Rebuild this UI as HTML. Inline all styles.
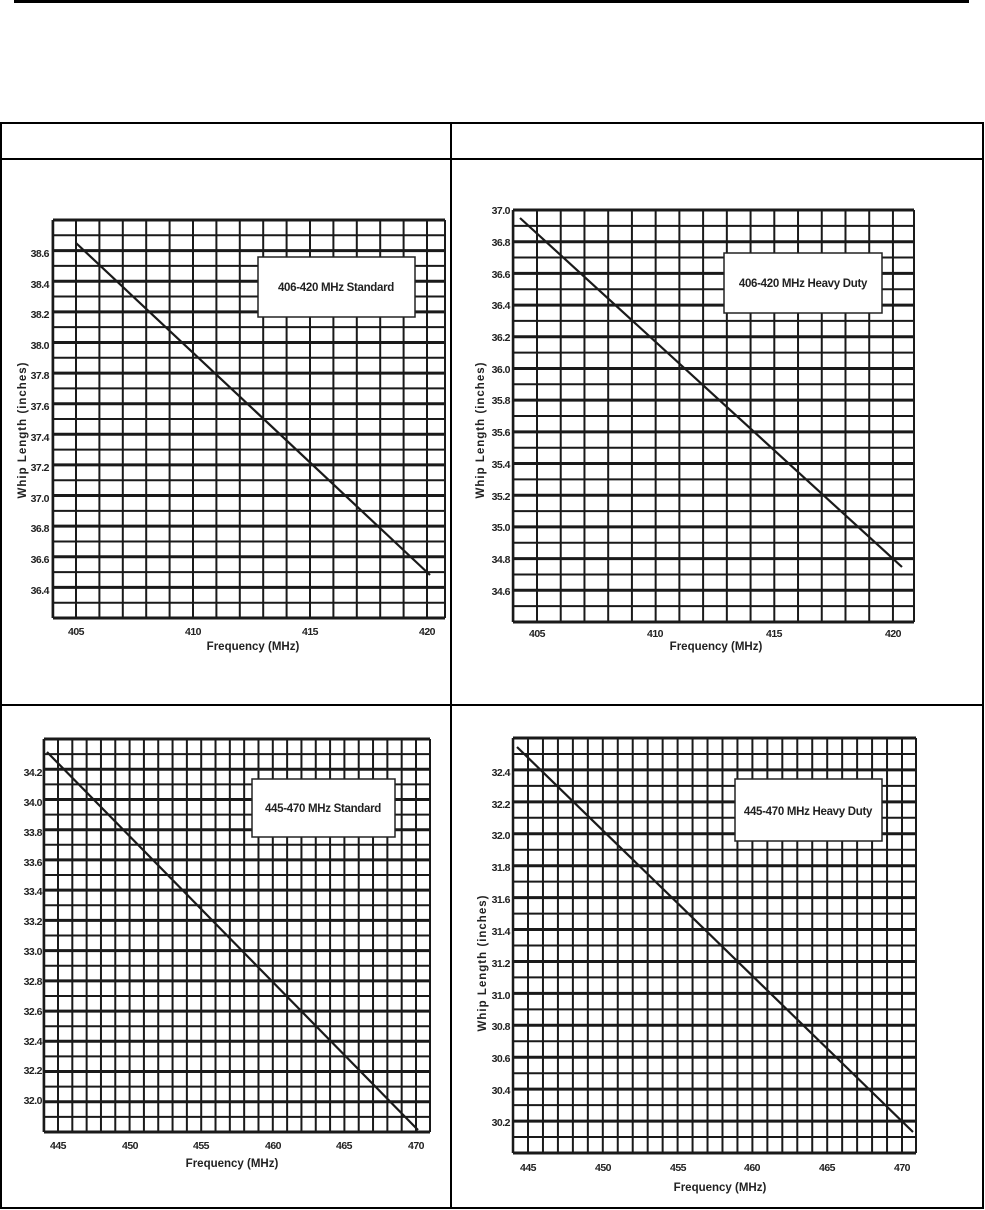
<!DOCTYPE html>
<html><head><meta charset="utf-8"><style>
html,body{margin:0;padding:0;background:#fff;}
svg{display:block;}
text{font-family:"Liberation Sans",sans-serif;font-weight:bold;fill:#222;}
.t{font-size:10.5px;letter-spacing:-0.5px;}
.lg{font-size:11.5px;letter-spacing:-0.3px;}
.ax{font-size:11.5px;}
</style></head><body>
<svg id="s" width="985" height="1210" viewBox="0 0 985 1210" xmlns="http://www.w3.org/2000/svg">
<rect x="14" y="0" width="955" height="3" fill="#000"/>
<g stroke="#000" stroke-width="2" fill="none">
<rect x="1" y="123" width="982" height="1085"/>
<line x1="1" y1="159" x2="983" y2="159"/>
<line x1="1" y1="705" x2="983" y2="705"/>
<line x1="451" y1="123" x2="451" y2="1208"/>
</g>
<g id="grids"></g>

<!-- Chart 1 -->
<g class="t" text-anchor="end">
<text x="49" y="257">38.6</text><text x="49" y="288">38.4</text><text x="49" y="318">38.2</text><text x="49" y="349">38.0</text><text x="49" y="379">37.8</text><text x="49" y="410">37.6</text><text x="49" y="441">37.4</text><text x="49" y="471">37.2</text><text x="49" y="502">37.0</text><text x="49" y="532">36.8</text><text x="49" y="563">36.6</text><text x="49" y="594">36.4</text>
</g>
<g class="t" text-anchor="middle">
<text x="76" y="635">405</text><text x="193" y="635">410</text><text x="310" y="635">415</text><text x="427" y="635">420</text>
</g>
<text class="ax" x="253" y="650" text-anchor="middle">Frequency (MHz)</text>
<text class="ax" transform="translate(26,430) rotate(-90)" text-anchor="middle" letter-spacing="1">Whip Length (inches)</text>
<rect x="258" y="257" width="157" height="60" fill="#fff" stroke="#222" stroke-width="1.5"/>
<text class="lg" x="336" y="291" text-anchor="middle">406-420  MHz  Standard</text>

<!-- Chart 2 -->
<g class="t" text-anchor="end">
<text x="510" y="214">37.0</text><text x="510" y="246">36.8</text><text x="510" y="278">36.6</text><text x="510" y="309">36.4</text><text x="510" y="341">36.2</text><text x="510" y="373">36.0</text><text x="510" y="404">35.8</text><text x="510" y="436">35.6</text><text x="510" y="468">35.4</text><text x="510" y="500">35.2</text><text x="510" y="531">35.0</text><text x="510" y="563">34.8</text><text x="510" y="595">34.6</text>
</g>
<g class="t" text-anchor="middle">
<text x="537" y="637">405</text><text x="655" y="637">410</text><text x="774" y="637">415</text><text x="893" y="637">420</text>
</g>
<text class="ax" x="716" y="650" text-anchor="middle">Frequency (MHz)</text>
<text class="ax" transform="translate(484,430) rotate(-90)" text-anchor="middle" letter-spacing="1">Whip Length (inches)</text>
<rect x="724" y="253" width="158" height="60" fill="#fff" stroke="#222" stroke-width="1.5"/>
<text class="lg" x="803" y="287" text-anchor="middle">406-420  MHz  Heavy  Duty</text>

<!-- Chart 3 -->
<g class="t" text-anchor="end">
<text x="42" y="776">34.2</text><text x="42" y="806">34.0</text><text x="42" y="836">33.8</text><text x="42" y="866">33.6</text><text x="42" y="895">33.4</text><text x="42" y="925">33.2</text><text x="42" y="955">33.0</text><text x="42" y="985">32.8</text><text x="42" y="1015">32.6</text><text x="42" y="1045">32.4</text><text x="42" y="1074">32.2</text><text x="42" y="1104">32.0</text>
</g>
<g class="t" text-anchor="middle">
<text x="58" y="1149">445</text><text x="130" y="1149">450</text><text x="201" y="1149">455</text><text x="273" y="1149">460</text><text x="344" y="1149">465</text><text x="416" y="1149">470</text>
</g>
<text class="ax" x="232" y="1167" text-anchor="middle">Frequency (MHz)</text>
<rect x="252" y="779" width="143" height="58" fill="#fff" stroke="#222" stroke-width="1.5"/>
<text class="lg" x="323" y="812" text-anchor="middle">445-470  MHz  Standard</text>

<!-- Chart 4 -->
<g class="t" text-anchor="end">
<text x="510" y="776">32.4</text><text x="510" y="808">32.2</text><text x="510" y="839">32.0</text><text x="510" y="871">31.8</text><text x="510" y="903">31.6</text><text x="510" y="935">31.4</text><text x="510" y="967">31.2</text><text x="510" y="999">31.0</text><text x="510" y="1030">30.8</text><text x="510" y="1062">30.6</text><text x="510" y="1094">30.4</text><text x="510" y="1126">30.2</text>
</g>
<g class="t" text-anchor="middle">
<text x="528" y="1171">445</text><text x="603" y="1171">450</text><text x="678" y="1171">455</text><text x="752" y="1171">460</text><text x="827" y="1171">465</text><text x="902" y="1171">470</text>
</g>
<text class="ax" x="720" y="1191" text-anchor="middle">Frequency (MHz)</text>
<text class="ax" transform="translate(486,963) rotate(-90)" text-anchor="middle" letter-spacing="1">Whip Length (inches)</text>
<rect x="735" y="779" width="147" height="62" fill="#fff" stroke="#222" stroke-width="1.5"/>
<text class="lg" x="808" y="815" text-anchor="middle">445-470  MHz  Heavy  Duty</text>
</svg>
<script>
(function(){
var NS="http://www.w3.org/2000/svg";
var g=document.getElementById('grids');
function L(x1,y1,x2,y2,w){var l=document.createElementNS(NS,'line');l.setAttribute('x1',x1);l.setAttribute('y1',y1);l.setAttribute('x2',x2);l.setAttribute('y2',y2);l.setAttribute('stroke','#1a1a1a');l.setAttribute('stroke-width',w);g.appendChild(l);}
var C=[
 {x0:53,x1:445,y0:220,y1:618,ref:76,sc:23.4,f0:404,f1:420,line:[76,243,430,575]},
 {x0:513,x1:914,y0:210,y1:622,ref:537,sc:23.73,f0:404,f1:420,line:[520,218,902,567]},
 {x0:44,x1:430,y0:739,y1:1132,ref:58,sc:14.32,f0:444,f1:470,line:[47,752,418,1130]},
 {x0:513,x1:916,y0:738,y1:1153,ref:528,sc:14.96,f0:444,f1:470,line:[517,747,913,1132]}
];
C.forEach(function(c){
 var baseF=(c.f0===404)?405:445;
 for(var f=c.f0;f<=c.f1;f++){var x=c.ref+(f-baseF)*c.sc;L(x,c.y0,x,c.y1,2);}
 L(c.x0,c.y0,c.x0,c.y1,2.5);L(c.x1,c.y0,c.x1,c.y1,2);
 for(var i=0;i<=26;i++){var y=c.y0+(c.y1-c.y0)*i/26;L(c.x0,y,c.x1,y,(i%2==0)?3:2);}
 L(c.line[0],c.line[1],c.line[2],c.line[3],2.2);
});
})();
</script>
</body></html>
